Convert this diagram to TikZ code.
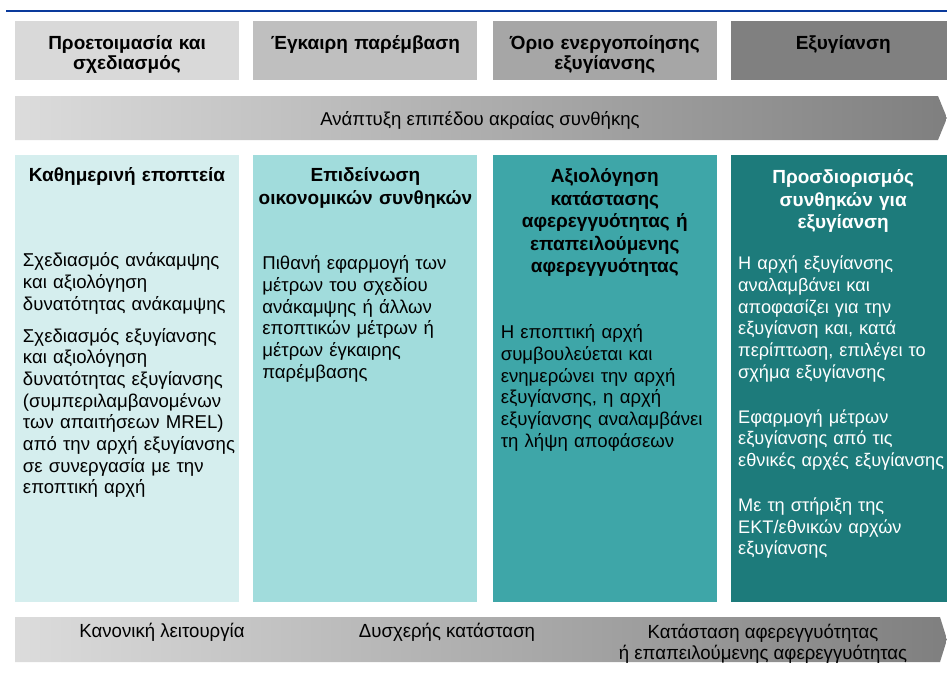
\documentclass[tikz,border=0pt]{standalone}
\usepackage{fontspec}
\setmainfont{Liberation Sans}
\newfontfamily\narrowsans[FakeStretch=0.98]{Liberation Sans}
\usetikzlibrary{positioning}
\definecolor{topblue}{HTML}{0A3A9C}
\definecolor{grayA}{HTML}{D9D9D9}
\definecolor{grayB}{HTML}{BFBFBF}
\definecolor{grayC}{HTML}{A6A6A6}
\definecolor{grayD}{HTML}{808080}
\definecolor{tealA}{HTML}{D5EEEE}
\definecolor{tealB}{HTML}{A1DCDC}
\definecolor{tealC}{HTML}{3EA6A8}
\definecolor{tealD}{HTML}{1D7B7B}
\definecolor{bandL}{HTML}{DCDCDC}
\definecolor{bandR}{HTML}{7F7F7F}

\begin{document}
\begin{tikzpicture}[x=1pt, y=-1pt,
  stage/.style={rectangle, minimum width=224pt, minimum height=59pt, inner sep=0pt},
  colbox/.style={rectangle, minimum width=224pt, minimum height=447pt, inner sep=0pt},
  stagetext/.style={inner sep=0pt, text width=224pt, align=center, font=\bfseries\fontsize{19}{20}\selectfont, execute at begin node=\strut},
  coltitle/.style={inner sep=0pt, text width=224pt, align=center, font=\bfseries\fontsize{19}{22.5}\selectfont, execute at begin node=\strut},
  coltext/.style={inner sep=0pt, text width=240pt, align=left, font=\fontsize{18.6}{21.7}\selectfont, execute at begin node=\strut},
  bandtext/.style={inner sep=0pt, align=center, font=\narrowsans\fontsize{19}{21}\selectfont}]
\useasboundingbox (0,0) rectangle (947,680);
\fill[white] (0,0) rectangle (947,680);

\coordinate (ls) at (6,11);
\coordinate (le) at (947,11);
\draw[topblue, line width=2.2pt] (ls) -- (le);

\node (h1) [stage, fill=grayA] at (127,50.5) {};
\node (h2) [stage, fill=grayB, right=14pt of h1] {};
\node (h3) [stage, fill=grayC, right=15pt of h2] {};
\node (h4) [stage, fill=grayD, right=14pt of h3] {};
\node (l1) [stagetext, below=14.8pt of h1.north] {Προετοιμασία και\\σχεδιασμός};
\node (l2) [stagetext, below=14.8pt of h2.north] {Έγκαιρη παρέμβαση};
\node (l3) [stagetext, below=14.8pt of h3.north] {Όριο ενεργοποίησης\\εξυγίανσης};
\node (l4) [stagetext, below=14.8pt of h4.north] {Εξυγίανση};

\shade[left color=bandL, right color=bandR] (15,96) -- (938,96) -- (947,118) -- (938,140) -- (15,140) -- cycle;
\node (band) [inner sep=0pt, anchor=base, font=\fontsize{18.6}{20}\selectfont] at (480,125.7) {Ανάπτυξη επιπέδου ακραίας συνθήκης};

\node (c1) [colbox, fill=tealA] at (127,378.5) {};
\node (c2) [colbox, fill=tealB, right=14pt of c1] {};
\node (c3) [colbox, fill=tealC, right=15pt of c2] {};
\node (c4) [colbox, fill=tealD, right=14pt of c3] {};

\node (t1) [coltitle, below=11pt of c1.north] {Καθημερινή εποπτεία};
\node (t2) [coltitle, below=11pt of c2.north] {Επιδείνωση\\οικονομικών συνθηκών};
\node (t3) [coltitle, below=12pt of c3.north] {Αξιολόγηση\\κατάστασης\\αφερεγγυότητας ή\\επαπειλούμενης\\αφερεγγυότητας};
\node (t4) [coltitle, text=white, below=13pt of c4.north] {Προσδιορισμός\\συνθηκών για\\εξυγίανση};

\node (p1) [coltext, below right=96.5pt and 8pt of c1.north west] {Σχεδιασμός ανάκαμψης\\και αξιολόγηση\\δυνατότητας ανάκαμψης\\[10.3pt]Σχεδιασμός εξυγίανσης\\και αξιολόγηση\\δυνατότητας εξυγίανσης\\(συμπεριλαμβανομένων\\των απαιτήσεων MREL)\\από την αρχή εξυγίανσης\\σε συνεργασία με την\\εποπτική αρχή};
\node (p2) [coltext, below right=99.5pt and 9pt of c2.north west] {Πιθανή εφαρμογή των\\μέτρων του σχεδίου\\ανάκαμψης ή άλλων\\εποπτικών μέτρων ή\\μέτρων έγκαιρης\\παρέμβασης};
\node (p3) [coltext, below right=168.5pt and 8pt of c3.north west] {Η εποπτική αρχή\\συμβουλεύεται και\\ενημερώνει την αρχή\\εξυγίανσης, η αρχή\\εξυγίανσης αναλαμβάνει\\τη λήψη αποφάσεων};
\node (p4) [coltext, text=white, font=\fontsize{18.2}{21.7}\selectfont, below right=99.5pt and 7pt of c4.north west] {Η αρχή εξυγίανσης\\αναλαμβάνει και\\αποφασίζει για την\\εξυγίανση και, κατά\\περίπτωση, επιλέγει το\\σχήμα εξυγίανσης\\[23.3pt]Εφαρμογή μέτρων\\εξυγίανσης από τις\\εθνικές αρχές εξυγίανσης\\[23.3pt]Με τη στήριξη της\\ΕΚΤ/εθνικών αρχών\\εξυγίανσης};

\shade[left color=bandL, right color=bandR] (15,617) -- (940,617) -- (947,639.5) -- (940,662) -- (15,662) -- cycle;
\node (s1) [bandtext, anchor=base] at (162,637) {Κανονική λειτουργία};
\node (s2) [bandtext, anchor=base] at (447,637) {Δυσχερής κατάσταση};
\node (s3) [bandtext, anchor=north, execute at begin node=\strut] at (763,624) {Κατάσταση αφερεγγυότητας\\ή επαπειλούμενης αφερεγγυότητας};
\end{tikzpicture}
\end{document}
